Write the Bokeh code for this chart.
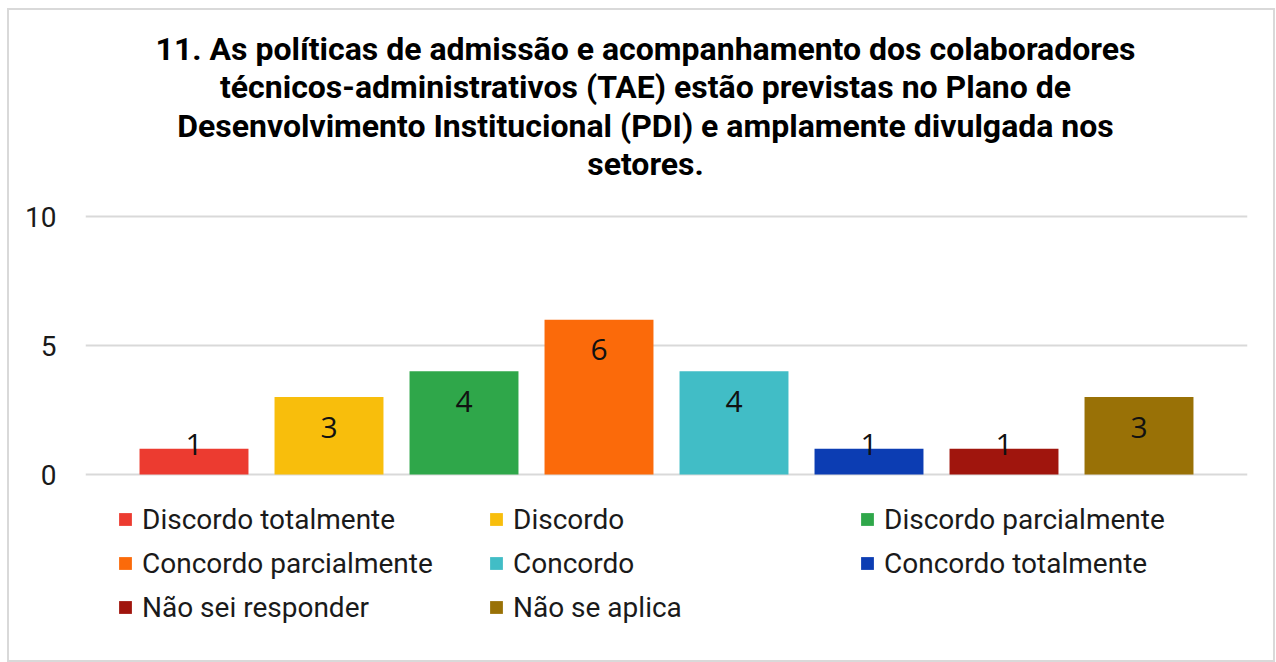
from bokeh.plotting import figure
from bokeh.models import ColumnDataSource, Legend, LegendItem, Label, FixedTicker, Range1d
from bokeh.core.properties import value
from bokeh.embed import file_html
from bokeh.resources import INLINE

# ---- data ----
categories = ["Discordo totalmente", "Discordo", "Discordo parcialmente",
              "Concordo parcialmente", "Concordo", "Concordo totalmente",
              "Não sei responder", "Não se aplica"]
counts = [1, 3, 4, 6, 4, 1, 1, 3]
colors = ["#EC3B30", "#F8BE0C", "#2FA74A", "#FB6A0A",
          "#41BDC6", "#0C3DB3", "#A0150D", "#997106"]
title_lines = ["11. As políticas de admissão e acompanhamento dos colaboradores",
               "técnicos-administrativos (TAE) estão previstas no Plano de",
               "Desenvolvimento Institucional (PDI) e amplamente divulgada nos",
               "setores."]
y_ticks = [0, 5, 10]

positions = list(range(1, len(categories) + 1))
label_offsets = [30 if v >= 2 else -4 for v in counts]
label_text = [str(v) for v in counts]

src = ColumnDataSource(dict(x=positions, top=counts, color=colors, cat=categories,
                            lbl=label_text, off=label_offsets))

FONT = "Roboto"

# ---- layout geometry (pixels) ----
W, H = 1276, 662
FRAME_L, FRAME_R = 85, 1247          # gridline extent
Y0_PX, Y10_PX = 474, 216             # pixel rows of value 0 and 10
PX_PER_CAT = 135.0
px_per_unit = (Y0_PX - Y10_PX) / 10.0
x_center = (len(categories) + 1) / 2.0
half_w = (FRAME_R - FRAME_L) / PX_PER_CAT / 2.0
x_start, x_end = x_center - half_w, x_center + half_w
# the frame covers the whole canvas height so that titles / legend are not clipped
y_start = -(H - Y0_PX) / px_per_unit
y_end = Y0_PX / px_per_unit


def px_to_x(px):
    return x_start + (px - FRAME_L) / PX_PER_CAT


def px_to_y(py):
    return (Y0_PX - py) / px_per_unit


p = figure(width=W, height=H, output_backend="svg", toolbar_location=None,
           x_range=Range1d(x_start, x_end), y_range=Range1d(y_start, y_end),
           min_border_left=FRAME_L, min_border_right=W - FRAME_R, min_border_top=0,
           min_border_bottom=0, border_fill_color=None, background_fill_color=None)
p.styles = {"box-shadow": "inset 3px 4px 0 4px #ffffff, inset 3px 4px 0 6px #d9d9d9"}
p.outline_line_color = None

# title lines
for i, line in enumerate(title_lines):
    p.add_layout(Label(x=px_to_x(645), y=px_to_y(48 + 38.5 * i),
                       text=line, text_align="center", text_baseline="middle",
                       text_font=FONT, text_font_size="32px", text_font_style="bold",
                       text_color="#000000"))

bars = p.vbar(x="x", top="top", width=0.807, bottom=0, fill_color="color",
              line_color=None, source=src)

p.text(x="x", y="top", text="lbl", y_offset="off", source=src,
       text_align="center", text_baseline="middle",
       text_font=value("Open Sans"), text_font_size="30px", text_color="#111111")

p.xaxis.visible = False
p.xgrid.visible = False
p.ygrid.grid_line_color = "#d9d9d9"
p.ygrid.grid_line_width = 2
p.yaxis.ticker = FixedTicker(ticks=y_ticks)
p.yaxis.axis_line_color = None
p.yaxis.major_tick_line_color = None
p.yaxis.minor_tick_line_color = None
p.yaxis.major_tick_out = 0
p.yaxis.major_tick_in = 0
p.yaxis.major_label_standoff = 29
p.yaxis.major_label_text_font = FONT
p.yaxis.major_label_text_font_size = "28px"
p.yaxis.major_label_text_color = "#1a1a1a"

items = [LegendItem(label=c, renderers=[bars], index=i) for i, c in enumerate(categories)]
legend = Legend(items=items, ncols=3, orientation="horizontal",
                location=(32, 33), margin=0, padding=0, spacing=0,
                glyph_width=16, glyph_height=16, label_standoff=9,
                label_width=346, label_height=44,
                label_text_font=FONT, label_text_font_size="28px",
                label_text_color="#1a1a1a", border_line_color=None,
                background_fill_alpha=0)
p.add_layout(legend, "center")

open("out.html", "w").write(file_html(p, INLINE))
